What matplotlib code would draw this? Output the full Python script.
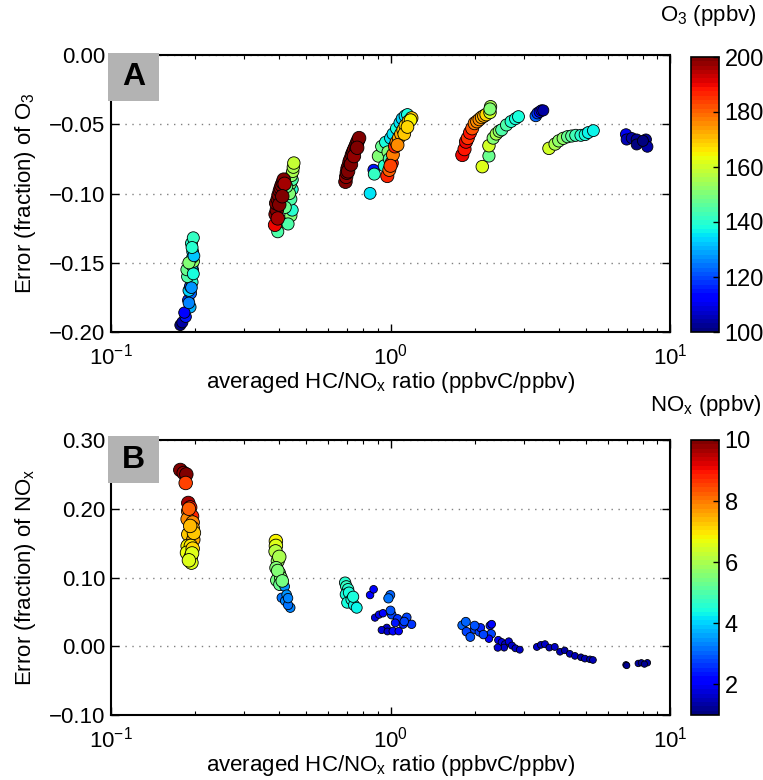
import numpy as np
import matplotlib
matplotlib.use("Agg")
import matplotlib.pyplot as plt
from matplotlib.patches import Rectangle
from matplotlib.ticker import FixedLocator, FuncFormatter

plt.rcParams['font.family'] = ['Liberation Sans', 'DejaVu Sans']
plt.rcParams['mathtext.fontset'] = 'custom'
plt.rcParams['mathtext.rm'] = 'Liberation Sans'
plt.rcParams['mathtext.it'] = 'Liberation Sans'
plt.rcParams['mathtext.bf'] = 'Liberation Sans:bold'

# ---------------- Panel A data: HC/NOx ratio, O3 error fraction, O3 (ppbv)
a_ratio = [0.177, 0.180, 0.185, 0.192, 0.189, 0.193, 0.190, 0.192, 0.195, 0.188, 0.196, 0.187, 0.195, 0.197, 0.196, 0.196, 0.194, 0.197,
           0.183, 0.190, 0.194, 0.197, 0.190, 0.198, 0.195,
           0.395, 0.410, 0.440, 0.445, 0.440, 0.445, 0.438, 0.445, 0.442, 0.447, 0.449, 0.451, 0.435, 0.425, 0.420, 0.430,
           0.386, 0.388, 0.392, 0.390, 0.395, 0.398, 0.402, 0.405, 0.408, 0.412, 0.415, 0.418, 0.400, 0.410, 0.395,
           0.690, 0.694, 0.698, 0.702, 0.708, 0.714, 0.720, 0.728, 0.735, 0.742, 0.750, 0.757, 0.764, 0.772, 0.705, 0.722, 0.740, 0.760,
           0.845, 0.870, 0.875, 0.905, 0.930, 0.960, 0.980, 1.000, 1.020, 1.050, 1.080, 1.100, 1.127, 1.150, 0.950, 0.990,
           0.974, 0.990, 1.010, 1.020, 1.038, 1.050, 1.070, 1.090, 1.110, 1.130, 1.160, 1.190, 1.180, 1.000, 1.060, 1.120, 1.150,
           1.807, 1.840, 1.863, 1.890, 1.925, 1.960, 2.000, 2.040, 2.080, 2.120, 2.160, 2.200, 2.270, 2.280, 2.270,
           2.130, 2.250, 2.250, 2.330, 2.390, 2.450, 2.500, 2.600, 2.700, 2.800, 2.870,
           3.310, 3.360, 3.420, 3.470, 3.520,
           3.690, 3.880, 4.000, 4.150, 4.300, 4.450, 4.600, 4.800, 4.970, 5.100, 5.320,
           6.960, 7.000, 7.300, 7.600, 7.600, 8.200, 8.300, 8.000]
a_err = [-0.195, -0.193, -0.189, -0.182, -0.177, -0.172, -0.170, -0.167, -0.164, -0.160, -0.155, -0.155, -0.152, -0.149, -0.146, -0.142, -0.136, -0.132,
         -0.186, -0.179, -0.168, -0.158, -0.150, -0.145, -0.139,
         -0.1276, -0.120, -0.116, -0.112, -0.104, -0.097, -0.093, -0.090, -0.087, -0.084, -0.081, -0.078, -0.100, -0.095, -0.110, -0.122,
         -0.1227, -0.115, -0.112, -0.107, -0.104, -0.101, -0.098, -0.096, -0.094, -0.092, -0.090, -0.093, -0.108, -0.102, -0.118,
         -0.0915, -0.088, -0.085, -0.082, -0.080, -0.077, -0.075, -0.072, -0.070, -0.068, -0.066, -0.064, -0.062, -0.060, -0.084, -0.079, -0.073, -0.067,
         -0.0999, -0.083, -0.086, -0.073, -0.066, -0.063, -0.070, -0.060, -0.057, -0.053, -0.049, -0.046, -0.044, -0.043, -0.080, -0.075,
         -0.0874, -0.083, -0.078, -0.072, -0.066, -0.063, -0.060, -0.057, -0.054, -0.051, -0.048, -0.0455, -0.047, -0.080, -0.065, -0.057, -0.052,
         -0.0722, -0.068, -0.0626, -0.060, -0.0561, -0.053, -0.0493, -0.048, -0.0465, -0.045, -0.044, -0.043, -0.0415, -0.0373, -0.039,
         -0.0806, -0.0729, -0.0655, -0.060, -0.057, -0.055, -0.054, -0.0505, -0.048, -0.046, -0.0445,
         -0.044, -0.042, -0.041, -0.040, -0.040,
         -0.0674, -0.0643, -0.062, -0.0602, -0.059, -0.0585, -0.058, -0.058, -0.0575, -0.056, -0.0546,
         -0.0573, -0.061, -0.060, -0.061, -0.0646, -0.061, -0.0662, -0.062]
a_o3 = [100, 104, 115, 130, 118, 122, 133, 120, 140, 145, 125, 148, 130, 152, 135, 133, 140, 142,
        112, 125, 128, 138, 150, 132, 140,
        145, 150, 150, 140, 145, 140, 150, 145, 152, 155, 155, 158, 150, 148, 148, 145,
        190, 198, 200, 200, 199, 200, 200, 197, 200, 198, 200, 196, 200, 199, 196,
        200, 198, 200, 199, 200, 200, 197, 200, 200, 198, 200, 200, 199, 200, 200, 200, 198, 200,
        135, 115, 142, 150, 148, 138, 150, 135, 135, 138, 135, 133, 135, 138, 140, 145,
        186, 180, 188, 178, 186, 175, 173, 172, 170, 168, 170, 170, 165, 184, 176, 170, 168,
        190, 188, 190, 185, 188, 182, 178, 176, 175, 173, 172, 168, 160, 155, 150,
        162, 148, 160, 150, 155, 152, 145, 145, 140, 138, 138,
        122, 118, 112, 108, 104,
        160, 155, 153, 152, 148, 146, 143, 140, 138, 137, 136,
        110, 106, 104, 102, 100, 102, 104, 101]

# ---------------- Panel B data: HC/NOx ratio, NOx error fraction, NOx (ppbv)
b_ratio = [0.177, 0.182, 0.186, 0.185, 0.189, 0.192, 0.189, 0.195, 0.188, 0.196, 0.196, 0.189, 0.197, 0.188, 0.193, 0.187, 0.196, 0.193, 0.194,
           0.190, 0.198, 0.195, 0.190, 0.192,
           0.389, 0.389, 0.388, 0.395, 0.400, 0.390, 0.400, 0.392, 0.405, 0.402, 0.418, 0.408, 0.420, 0.425, 0.438, 0.430,
           0.395, 0.410, 0.430,
           0.688, 0.695, 0.705, 0.692, 0.710, 0.700, 0.725, 0.740, 0.757, 0.735,
           0.845, 0.870, 0.998, 0.983, 0.880, 0.910, 0.940, 0.970, 0.930, 0.975, 1.020, 1.070, 1.010, 1.060, 1.143, 1.190, 1.110, 1.040, 1.120, 1.000,
           1.807, 1.860, 1.870, 1.930, 2.000, 2.080, 2.100, 2.000, 2.270, 2.300, 2.290, 2.250, 2.150,
           2.430, 2.500, 2.570, 2.650, 2.550, 2.720, 2.800, 2.420, 2.900,
           3.340, 3.450, 3.570, 3.700, 3.870, 4.040, 4.200, 4.380, 4.570, 4.800, 4.960, 5.170, 5.300,
           6.960, 7.000, 7.700, 7.900, 8.300, 8.100]
b_err = [0.2564, 0.252, 0.250, 0.2375, 0.2084, 0.202, 0.196, 0.189, 0.185, 0.180, 0.172, 0.1628, 0.155, 0.1458, 0.146, 0.136, 0.142, 0.130, 0.1216,
         0.200, 0.165, 0.135, 0.125, 0.175,
         0.153, 0.146, 0.138, 0.124, 0.130, 0.114, 0.106, 0.096, 0.100, 0.090, 0.087, 0.0706, 0.066, 0.075, 0.0561, 0.060,
         0.110, 0.095, 0.070,
         0.0925, 0.087, 0.083, 0.0755, 0.078, 0.0634, 0.068, 0.060, 0.056, 0.072,
         0.0745, 0.0828, 0.0745, 0.0697, 0.0416, 0.046, 0.048, 0.027, 0.0236, 0.0215, 0.022, 0.022, 0.046, 0.040, 0.042, 0.0319, 0.032, 0.034, 0.036, 0.052,
         0.0305, 0.0355, 0.0212, 0.0135, 0.025, 0.021, 0.027, 0.030, 0.030, 0.032, 0.018, 0.011, 0.017,
         0.009, 0.006, 0.003, 0.007, -0.002, 0.001, -0.003, -0.002, -0.005,
         -0.001, 0.002, 0.003, -0.002, -0.001, -0.008, -0.006, -0.011, -0.014, -0.016, -0.018, -0.019, -0.020,
         -0.027, -0.028, -0.025, -0.024, -0.024, -0.026]
b_nox = [10.0, 9.8, 9.9, 8.5, 9.6, 9.0, 8.0, 8.8, 7.8, 7.8, 7.6, 7.2, 7.5, 6.8, 7.0, 6.7, 7.1, 6.8, 6.6,
         8.2, 7.3, 6.6, 6.5, 7.4,
         6.8, 6.6, 6.2, 5.8, 6.0, 5.6, 5.5, 5.4, 5.5, 5.3, 3.5, 3.2, 3.3, 3.4, 3.3, 3.2,
         5.5, 5.4, 3.3,
         4.6, 4.7, 4.6, 4.5, 4.5, 4.4, 4.4, 4.3, 4.3, 4.5,
         2.0, 2.1, 3.0, 3.2, 1.8, 1.9, 2.0, 1.7, 1.8, 1.6, 2.2, 2.0, 2.8, 2.6, 2.8, 2.6, 2.5, 2.3, 2.7, 2.9,
         3.0, 3.0, 2.8, 2.9, 2.8, 2.8, 2.5, 2.9, 2.3, 2.2, 2.8, 2.0, 2.7,
         1.9, 1.8, 1.7, 1.8, 1.6, 1.7, 1.6, 1.8, 1.6,
         1.6, 1.5, 1.6, 1.5, 1.6, 1.5, 1.4, 1.5, 1.5, 1.4, 1.5, 1.4, 1.5,
         1.3, 1.2, 1.3, 1.2, 1.3, 1.2]

a_yticks = [-0.20, -0.15, -0.10, -0.05, 0.00]
b_yticks = [-0.10, 0.00, 0.10, 0.20, 0.30]
a_cticks = [100, 120, 140, 160, 180, 200]
b_cticks = [2, 4, 6, 8, 10]

W, H = 763, 780
fig = plt.figure(figsize=(W / 100, H / 100), dpi=100)
cmap = plt.get_cmap('jet', 64)

def px_rect(x0, y0, x1, y1):
    return [x0 / W, 1 - y1 / H, (x1 - x0) / W, (y1 - y0) / H]

TICK_FS = 16
LAB_FS = 16

def fmt(v, pos):
    s = "%.2f" % v
    return s.replace('-', '\u2212')

def setup_axes(ax, ylim, yticks, ylabel):
    ax.set_xscale('log')
    ax.set_xlim(0.1, 10)
    ax.set_ylim(*ylim)
    ax.yaxis.set_major_locator(FixedLocator(yticks))
    ax.yaxis.set_major_formatter(FuncFormatter(fmt))
    ax.yaxis.grid(True, linestyle=(0, (1, 4)), color='#808080', linewidth=1.0)
    ax.set_axisbelow(True)
    ax.tick_params(which='both', direction='in', top=True, right=True, labelsize=TICK_FS)
    ax.tick_params(which='major', length=6, width=1)
    ax.tick_params(which='minor', length=3, width=0.8)
    ax.tick_params(axis='x', pad=8)
    ax.tick_params(axis='y', pad=4)
    for sp in ax.spines.values():
        sp.set_linewidth(1.5)
    ax.set_xlabel('averaged HC/NO$_\\mathrm{x}$ ratio (ppbvC/ppbv)', fontsize=LAB_FS, labelpad=1)
    ax.set_ylabel(ylabel, fontsize=LAB_FS, labelpad=8)

# marker sizes derived from the colour value
a_size = [(0.72 * (11 + 2.5 * (v - 100) / 100)) ** 2 for v in a_o3]
b_size = [(0.72 * min(13.5, 6.0 + 1.5 * (v - 1))) ** 2 for v in b_nox]

axA = fig.add_axes(px_rect(111, 55, 670, 332))
scA = axA.scatter(a_ratio, a_err, c=a_o3, s=a_size, cmap=cmap, vmin=100, vmax=200,
                  edgecolors='k', linewidths=0.6, zorder=3)
setup_axes(axA, (-0.20, 0.0), a_yticks, 'Error (fraction) of O$_3$')

axB = fig.add_axes(px_rect(111, 440, 670, 715))
scB = axB.scatter(b_ratio, b_err, c=b_nox, s=b_size, cmap=cmap, vmin=1, vmax=10,
                  edgecolors='k', linewidths=0.6, zorder=3)
setup_axes(axB, (-0.10, 0.30), b_yticks, 'Error (fraction) of NO$_\\mathrm{x}$')

caxA = fig.add_axes(px_rect(691, 57, 719, 332))
cbA = fig.colorbar(scA, cax=caxA, ticks=a_cticks)
caxB = fig.add_axes(px_rect(691, 440, 719, 715))
cbB = fig.colorbar(scB, cax=caxB, ticks=b_cticks)
for cb in (cbA, cbB):
    cb.outline.set_linewidth(1.2)
    cb.ax.tick_params(labelsize=TICK_FS + 1, direction='in', length=4, width=1, pad=4)
    cb.ax.minorticks_off()

fig.text(708 / W, 1 - 16 / H, 'O$_3$ (ppbv)', ha='center', va='center', fontsize=LAB_FS)
fig.text(706 / W, 1 - 405 / H, 'NO$_\\mathrm{x}$ (ppbv)', ha='center', va='center', fontsize=LAB_FS)

for (x0, y0, x1, y1), letter in [((108, 53, 159, 101), 'A'), ((108, 436, 159, 483), 'B')]:
    fig.add_artist(Rectangle((x0 / W, 1 - y1 / H), (x1 - x0) / W, (y1 - y0) / H,
                             transform=fig.transFigure, facecolor='#b3b3b3', edgecolor='none', zorder=5))
    fig.text((x0 + x1) / 2 / W, 1 - (y0 + y1) / 2 / H, letter, ha='center', va='center',
             fontsize=23, fontweight='bold', zorder=6)

fig.savefig('out.png', dpi=100)
